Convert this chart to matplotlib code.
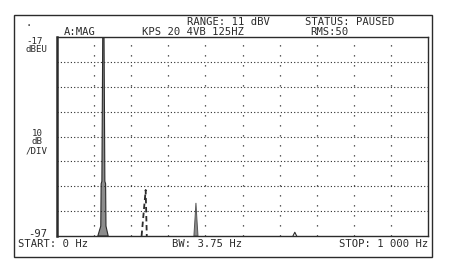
import matplotlib.pyplot as plt
from matplotlib.patches import Rectangle

W, H = 450, 274

# scale of the analyser screen
db_top = -17
db_bottom = -97
db_per_div = 10
hz_start = 0
hz_stop = 1000
hz_per_div = 100

# main peak (about 125 Hz), clipped at the top of the screen
peak1_hz = [110, 118, 119, 121, 123.5, 126.5, 129, 131, 132, 138]
peak1_db = [-97, -93, -76, -75, -10, -10, -75, -76, -93, -97]

# dashed trace near 240 Hz
peak2_hz = [228, 239, 242]
peak2_db = [-97, -78.5, -97]

# small peak near 375 Hz
peak3_hz = [369, 372, 374.5, 377, 380]
peak3_db = [-97, -90, -83.7, -90, -97]

# tiny blip near 640 Hz
peak4_hz = [636, 641, 646]
peak4_db = [-97, -95.5, -97]

INK = '#2b2b2b'
FONT = 'DejaVu Sans Mono'


def px(x, y):
    return x / W, 1 - y / H


def label(x, y, s, ha='left', size=7.6):
    fx, fy = px(x, y)
    fig.text(fx, fy, s, ha=ha, va='center', fontsize=size, family=FONT, color=INK)


fig = plt.figure(figsize=(W / 100, H / 100), dpi=100)
fig.patch.set_facecolor('white')

# outer frame
x0, y0 = px(14, 257)
x1, y1 = px(432, 15)
fig.patches.append(Rectangle((x0, y0), x1 - x0, y1 - y0, transform=fig.transFigure,
                             fill=False, edgecolor=INK, linewidth=1.0))

l, b = px(57, 236)
r, t = px(428, 37)
ax = fig.add_axes([l, b, r - l, t - b])
ax.set_xlim(hz_start, hz_stop)
ax.set_ylim(db_bottom, db_top)
ax.set_xticks([])
ax.set_yticks([])
for side in ax.spines.values():
    side.set_color(INK)
    side.set_linewidth(1.0)
ax.spines['left'].set_linewidth(1.8)

for d in range(db_bottom + db_per_div, db_top, db_per_div):
    ax.axhline(d, color=INK, linewidth=0.8, linestyle=(0, (1, 2)))
for f in range(hz_start + hz_per_div, hz_stop, hz_per_div):
    ax.axvline(f, color=INK, linewidth=0.9, linestyle=(0, (1, 7)))

ax.fill(peak1_hz, peak1_db, color='#8c8c8c', edgecolor=INK, linewidth=0.8)
ax.plot(peak2_hz, peak2_db, color=INK, linewidth=1.3, linestyle=(0, (3, 2)))
ax.fill(peak3_hz, peak3_db, color='#8c8c8c', edgecolor='#555555', linewidth=0.7)
ax.plot(peak4_hz, peak4_db, color=INK, linewidth=0.8)

# screen annotations
label(187, 22, 'RANGE: 11 dBV')
label(305, 22, 'STATUS: PAUSED')
label(64, 32, 'A:MAG')
label(142, 32, 'KPS 20 4VB 125HZ')
label(310, 32, 'RMS:50')
label(26, 41, '-17', size=6.6)
label(26, 50, 'dBEU', size=6.6)
label(37, 133, '10', ha='center', size=6.6)
label(37, 142, 'dB', ha='center', size=6.6)
label(37, 151, '/DIV', ha='center', size=6.6)
label(28, 234, '-97')
label(18, 244, 'START: 0 Hz')
label(172, 244, 'BW: 3.75 Hz')
label(428, 244, 'STOP: 1 000 Hz', ha='right')
label(26, 23, '.')

fig.savefig('out.png', dpi=100, facecolor='white')
